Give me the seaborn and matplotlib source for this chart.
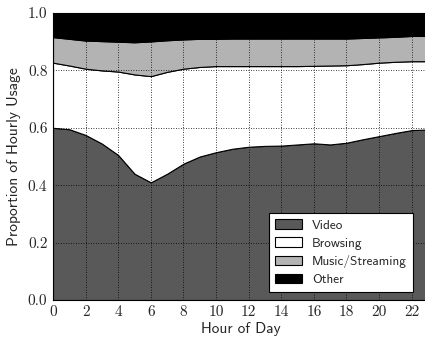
import numpy as np
import pandas as pd
import matplotlib
matplotlib.use("Agg")
import matplotlib.pyplot as plt
import seaborn as sns

hours = list(range(24))
video = [0.600, 0.595, 0.575, 0.545, 0.505, 0.440, 0.410, 0.440, 0.475, 0.500, 0.515, 0.527,
         0.534, 0.537, 0.538, 0.542, 0.546, 0.542, 0.548, 0.560, 0.571, 0.582, 0.592, 0.594]
browsing_top = [0.827, 0.817, 0.806, 0.800, 0.796, 0.786, 0.780, 0.795, 0.806, 0.812, 0.815, 0.815,
                0.815, 0.815, 0.815, 0.815, 0.816, 0.817, 0.818, 0.822, 0.827, 0.830, 0.832, 0.832]
music_top = [0.916, 0.910, 0.904, 0.902, 0.900, 0.898, 0.901, 0.905, 0.908, 0.910, 0.910, 0.911,
             0.911, 0.911, 0.911, 0.911, 0.911, 0.911, 0.911, 0.913, 0.915, 0.917, 0.920, 0.920]
labels = ["Video", "Browsing", "Music/Streaming", "Other"]
colors = ["#595959", "#ffffff", "#b3b3b3", "#000000"]

df = pd.DataFrame({"hour": hours, "Video": video})
df["Browsing"] = np.array(browsing_top) - np.array(video)
df["Music/Streaming"] = np.array(music_top) - np.array(browsing_top)
df["Other"] = 1.0 - np.array(music_top)

sns.set_style("white", {
    "xtick.direction": "in", "ytick.direction": "in",
    "axes.edgecolor": "black", "axes.linewidth": 1.0,
})

fig = plt.figure(figsize=(4.25, 3.4), dpi=100)
ax = fig.add_axes([53 / 425, 40 / 340, 375 / 425, 287 / 340])

ax.stackplot(df["hour"], [df[c] for c in labels], labels=labels,
             colors=colors, edgecolor="black", linewidth=0.8)

ax.set_xlim(0, 23)
ax.set_ylim(0, 1.0)
ax.set_xticks(range(0, 24, 2))
ax.set_yticks(np.arange(0, 1.01, 0.2))
ax.set_xticklabels([str(h) for h in range(0, 24, 2)], family="cmr10", fontsize=11)
ax.set_yticklabels([f"{v:.1f}" for v in np.arange(0, 1.01, 0.2)], family="cmr10", fontsize=11)
ax.tick_params(axis="both", which="major", length=0, pad=4)

ax.set_axisbelow(False)
ax.grid(True, linestyle=(0, (1, 2)), color="black", linewidth=0.6, zorder=3)

ax.set_xlabel("Hour of Day", family="cmss10", fontsize=11, labelpad=2)
ax.set_ylabel("Proportion of Hourly Usage", family="cmss10", fontsize=11.2, labelpad=5)

leg = ax.legend(loc="lower right", bbox_to_anchor=(0.96, 0.028), borderaxespad=0,
                frameon=True, fancybox=False, edgecolor="black", framealpha=1.0,
                prop={"family": "cmss10", "size": 9.5}, borderpad=0.45,
                labelspacing=0.42, handlelength=2.0, handleheight=0.75,
                handletextpad=0.8)
leg.get_frame().set_linewidth(0.8)
leg.set_zorder(5)

fig.savefig("out.png", dpi=100)
